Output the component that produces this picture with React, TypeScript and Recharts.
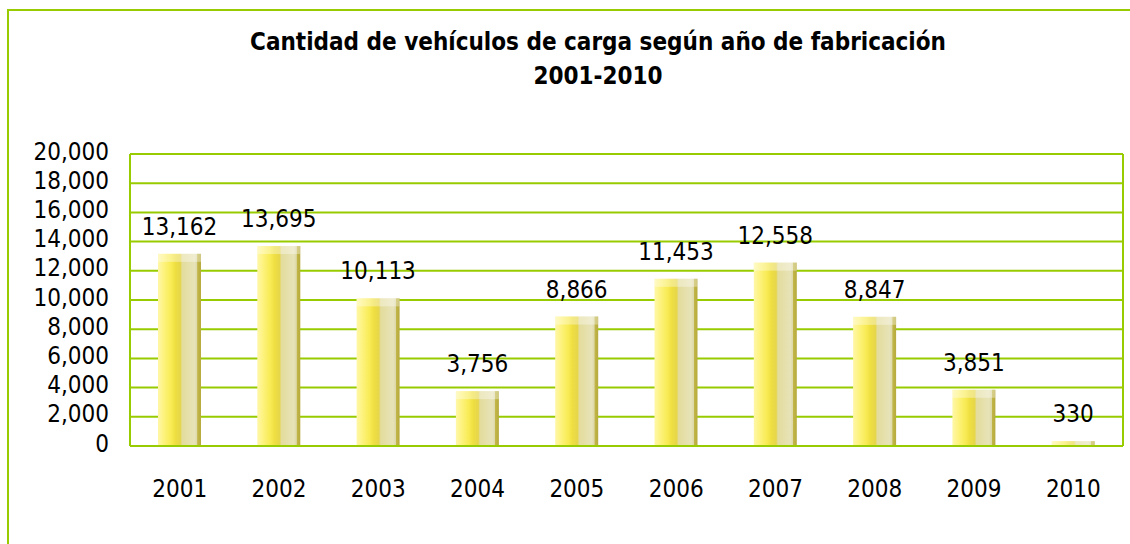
import React from 'react';
import { BarChart, Bar, XAxis, YAxis, CartesianGrid, LabelList } from 'recharts';

const years = ['2001', '2002', '2003', '2004', '2005', '2006', '2007', '2008', '2009', '2010'];
const vehicles = [13162, 13695, 10113, 3756, 8866, 11453, 12558, 8847, 3851, 330];
const yTicks = [0, 2000, 4000, 6000, 8000, 10000, 12000, 14000, 16000, 18000, 20000];

const chartData = years.map((year, i) => ({ year, value: vehicles[i] }));

const GREEN = '#99cc00';
const FONT = "'DejaVu Sans Condensed', 'DejaVu Sans', sans-serif";

const fmt = (v: number) => v.toLocaleString('en-US');

// bar with a glossy cylinder-like fill and a lighter top cap
const GlossBar = (props: any) => {
  const { x, y, width, height } = props;
  if (!height || height <= 0) return null;
  const cap = Math.min(8, height);
  return (
    <g>
      <rect x={x} y={y} width={width} height={height} fill="url(#barFill)" />
      <rect x={x} y={y} width={width} height={cap} fill="#ffffff" fillOpacity={0.35} />
    </g>
  );
};

export default function App() {
  return (
    <div
      style={{
        position: 'fixed',
        left: 0,
        top: 0,
        width: 1130,
        height: 544,
        overflow: 'hidden',
        background: '#ffffff',
        fontFamily: FONT,
        fontStretch: 'condensed',
      }}
    >
      <div
        style={{
          position: 'absolute',
          left: 7,
          top: 9,
          width: 1300,
          height: 700,
          border: `2px solid ${GREEN}`,
        }}
      />
      <div
        style={{
          position: 'absolute',
          left: 0,
          width: 1196,
          top: 25,
          textAlign: 'center',
          fontWeight: 'bold',
          fontSize: 24,
          lineHeight: '34px',
          color: '#000',
        }}
      >
        <div>Cantidad de vehículos de carga según año de fabricación</div>
        <div>2001-2010</div>
      </div>
      <div style={{ position: 'absolute', left: 0, top: 0 }}>
        <BarChart
          width={1130}
          height={544}
          data={chartData}
          margin={{ top: 154, right: 6, bottom: 68, left: 0 }}
          barCategoryGap={0}
        >
          <defs>
            <linearGradient id="barFill" x1="0" y1="0" x2="1" y2="0">
              <stop offset="0%" stopColor="#fff7a8" />
              <stop offset="15%" stopColor="#fdf27a" />
              <stop offset="30%" stopColor="#f8eb55" />
              <stop offset="40%" stopColor="#efdf42" />
              <stop offset="52%" stopColor="#e6d64a" />
              <stop offset="56%" stopColor="#e3dc9c" />
              <stop offset="85%" stopColor="#e7e3b8" />
              <stop offset="91%" stopColor="#ddd8a8" />
              <stop offset="92%" stopColor="#c2b648" />
              <stop offset="100%" stopColor="#b6aa3e" />
            </linearGradient>
          </defs>
          <CartesianGrid yAxisId="left" vertical={false} stroke={GREEN} strokeWidth={2} />
          <XAxis
            dataKey="year"
            height={30}
            axisLine={{ stroke: GREEN, strokeWidth: 2 }}
            tickLine={false}
            tickSize={0}
            tickMargin={34}
            tick={{ fill: '#000', fontSize: 24, fontFamily: FONT }}
            interval={0}
          />
          <YAxis
            yAxisId="left"
            domain={[0, 20000]}
            ticks={yTicks}
            width={130}
            axisLine={{ stroke: GREEN, strokeWidth: 2 }}
            tickLine={false}
            tickSize={0}
            tickMargin={21}
            tickFormatter={fmt}
            tick={{ fill: '#000', fontSize: 24, fontFamily: FONT, dy: -3 }}
            interval={0}
          />
          <YAxis
            yAxisId="right"
            orientation="right"
            domain={[0, 20000]}
            width={1}
            axisLine={{ stroke: GREEN, strokeWidth: 2 }}
            tickLine={false}
            tick={false}
          />
          <Bar
            yAxisId="left"
            dataKey="value"
            barSize={43}
            shape={<GlossBar />}
            isAnimationActive={false}
          >
            <LabelList
              dataKey="value"
              position="top"
              offset={19}
              formatter={(v: any) => fmt(Number(v))}
              style={{ fill: '#000', fontSize: 24, fontFamily: FONT }}
            />
          </Bar>
        </BarChart>
      </div>
    </div>
  );
}
